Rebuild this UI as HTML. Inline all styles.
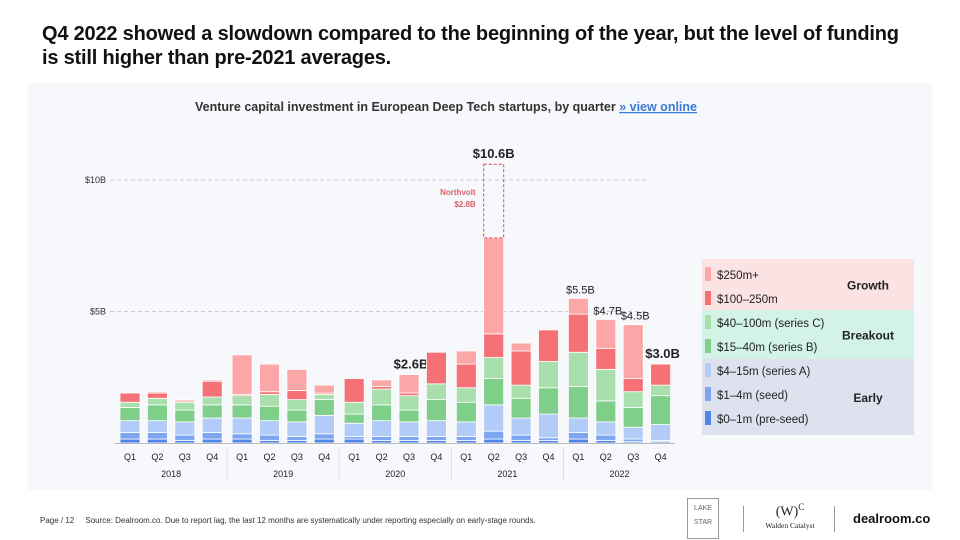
<!DOCTYPE html>
<html><head><meta charset="utf-8"><style>
body{margin:0;width:960px;height:540px;background:#fff;font-family:"Liberation Sans",sans-serif;overflow:hidden;position:relative}
.t{position:absolute;left:42px;top:22px;font-size:20px;font-weight:bold;color:#111;line-height:24px;letter-spacing:-0.2px}
.panel{position:absolute;left:28px;top:83px;width:904px;height:407px;background:#f7f8fc}
svg{position:absolute;left:0;top:0}
</style></head><body>
<div class="t">Q4 2022 showed a slowdown compared to the beginning of the year, but the level of funding<br>is still higher than pre-2021 averages.</div>
<div class="panel"></div>
<svg width="960" height="540" id="c">
<text x="446" y="111" font-size="12.5" font-weight="bold" fill="#333" text-anchor="middle">Venture capital investment in European Deep Tech startups, by quarter <tspan fill="#3a7bd5" text-decoration="underline">» view online</tspan></text>
</svg>
<script>
const quarters=["Q1","Q2","Q3","Q4","Q1","Q2","Q3","Q4","Q1","Q2","Q3","Q4","Q1","Q2","Q3","Q4","Q1","Q2","Q3","Q4"];
const years=["2018","2019","2020","2021","2022"];
const preseed=[0.15,0.15,0.1,0.15,0.15,0.1,0.1,0.15,0.15,0.1,0.1,0.1,0.1,0.15,0.1,0.1,0.15,0.1,0.05,0.05];
const seed=[0.25,0.25,0.2,0.25,0.2,0.2,0.15,0.2,0.1,0.15,0.15,0.15,0.15,0.3,0.2,0.1,0.25,0.2,0.1,0.05];
const seriesA=[0.45,0.45,0.5,0.55,0.6,0.55,0.55,0.7,0.5,0.6,0.55,0.6,0.55,1.0,0.65,0.9,0.55,0.5,0.45,0.6];
const seriesB=[0.5,0.6,0.45,0.5,0.5,0.55,0.45,0.6,0.35,0.6,0.45,0.8,0.75,1.0,0.75,1.0,1.2,0.8,0.75,1.1];
const seriesC=[0.2,0.25,0.3,0.3,0.35,0.45,0.4,0.2,0.45,0.6,0.55,0.6,0.55,0.8,0.5,1.0,1.3,1.2,0.6,0.4];
const m100=[0.35,0.2,0.05,0.6,0.05,0.1,0.35,0.05,0.9,0.1,0.1,1.2,0.9,0.9,1.3,1.2,1.45,0.8,0.5,0.8];
const m250=[0,0.05,0.05,0.05,1.5,1.05,0.8,0.3,0,0.25,0.7,0,0.5,3.65,0.3,0,0.6,1.1,2.05,0];
const northvolt=[0,0,0,0,0,0,0,0,0,0,0,0,0,2.8,0,0,0,0,0,0];
const totalLabels=["","","","","","","","","","","$2.6B","","","$10.6B","","","$5.5B","$4.7B","$4.5B","$3.0B"];
const yTicks=[5,10];const yTickLabels=["$5B","$10B"];
const series=[preseed,seed,seriesA,seriesB,seriesC,m100,m250];
const colors=["#4f86e8","#7ea6f0","#b3cbf7","#7fcf8b","#a8dfad","#f57176","#fba7a8"];
const names=["pre-seed","seed","series-a","series-b","series-c","100-250m","250m-plus"];
const svg=document.getElementById('c');const NS="http://www.w3.org/2000/svg";
const y0=443,pxB=26.3,x0=130,dx=27.4,bw=20;
const y=v=>y0-v*pxB;const xc=i=>x0+i*dx+Math.floor(i/4)*2.5;
function el(t,a,p){const e=document.createElementNS(NS,t);for(const k in a)e.setAttribute(k,a[k]);(p||svg).appendChild(e);return e;}
yTicks.forEach((v,i)=>{
 const l=el('line',{x1:110,x2:648,y1:y(v),y2:y(v),stroke:'#ccc','stroke-dasharray':'4 3'});
 
 
 const t=el('text',{x:106,y:y(v)+3,'font-size':9,fill:'#333','text-anchor':'end'});t.textContent=yTickLabels[i];
 
 
});
quarters.forEach((q,i)=>{
 let acc=0;const x=xc(i)-bw/2;
 series.forEach((s,k)=>{
  const v=s[i];if(v<=0)return;
  const r=el('rect',{x:x,y:y(acc+v),width:bw,height:v*pxB,fill:colors[k],stroke:'#fff','stroke-width':0.8});
  
  
  acc+=v;
 });
 if(northvolt[i]>0){
  const r=el('rect',{x:x,y:y(acc+northvolt[i]),width:bw,height:northvolt[i]*pxB,fill:'none',stroke:'#e04b55','stroke-dasharray':'3 2'});
  
  
  const n1=el('text',{x:x-8,y:y(acc+northvolt[i])+31,'font-size':8,'font-weight':'bold',fill:'#d9606a','text-anchor':'end'});n1.textContent='Northvolt';
  
  
  const n2=el('text',{x:x-8,y:y(acc+northvolt[i])+43,'font-size':8,'font-weight':'bold',fill:'#d9606a','text-anchor':'end'});n2.textContent='$2.8B';
  
  
  acc+=northvolt[i];
 }
 if(totalLabels[i]){
  const big=i==10||i==13||i==19;
  const t=el('text',{x:(i==10||i==19)?xc(i)+2:xc(i)+(i>=16?2:0),y:y(acc)-(big?6:5),'font-size':big?13:11,'font-weight':big?'bold':'normal',fill:'#222','text-anchor':'middle'});
  t.textContent=totalLabels[i];
  
  
 }
 const t=el('text',{x:xc(i),y:460,'font-size':9,fill:'#222','text-anchor':'middle'});t.textContent=q;
 
 
});
years.forEach((yr,j)=>{
 const t=el('text',{x:(xc(j*4)+xc(j*4+3))/2,y:477,'font-size':9,fill:'#222','text-anchor':'middle'});t.textContent=yr;
 
 
 if(j>0){const l=el('line',{x1:xc(j*4)-15,x2:xc(j*4)-15,y1:448,y2:480,stroke:'#ddd'});
 
 }
});
el('line',{x1:115,x2:675,y1:y0+0.5,y2:y0+0.5,stroke:'#bbb'});
const groups=[["#fbe3e3",259,51,"Growth"],["#d3f3e6",310,49,"Breakout"],["#dde2ee",359,76,"Early"]];
groups.forEach(g=>{const r=el('rect',{x:702,y:g[1],width:212,height:g[2],fill:g[0]});
 
 
 const t=el('text',{x:868,y:g[1]+g[2]/2+5,'font-size':12,'font-weight':'bold',fill:'#222','text-anchor':'middle'});t.textContent=g[3];
 
 });
const legendText=["$250m+","$100–250m","$40–100m (series C)","$15–40m (series B)","$4–15m (series A)","$1–4m (seed)","$0–1m (pre-seed)"];
legendText.forEach((s,i)=>{const yy=275+i*24;const ci=6-i;
 const r=el('rect',{x:705,y:yy-8,width:6,height:14,fill:colors[ci]});
 
 
 const t=el('text',{x:717,y:yy+4,'font-size':11.5,fill:'#222'});t.textContent=s;
 
 });
</script>
<div style="position:absolute;left:40px;top:516px;font-size:8px;color:#333">Page / 12 &nbsp;&nbsp;&nbsp; Source: Dealroom.co. Due to report lag, the last 12 months are systematically under reporting especially on early-stage rounds.</div>
<div style="position:absolute;left:687px;top:498px;width:30px;height:36px;border:1px solid #999;font-size:7px;color:#666;text-align:center;line-height:14px;padding-top:3px">LAKE<br>STAR</div>
<div style="position:absolute;left:743px;top:506px;width:1px;height:26px;background:#999"></div>
<div style="position:absolute;left:760px;top:502px;width:60px;text-align:center;font-family:'Liberation Serif',serif;color:#222"><div style="font-size:14px">(W)<sup style="font-size:9px">C</sup></div><div style="font-size:7.5px">Walden Catalyst</div></div>
<div style="position:absolute;left:834px;top:506px;width:1px;height:26px;background:#999"></div>
<div style="position:absolute;left:853px;top:511px;font-size:13px;font-weight:bold;color:#111">dealroom.co</div>
</body></html>
